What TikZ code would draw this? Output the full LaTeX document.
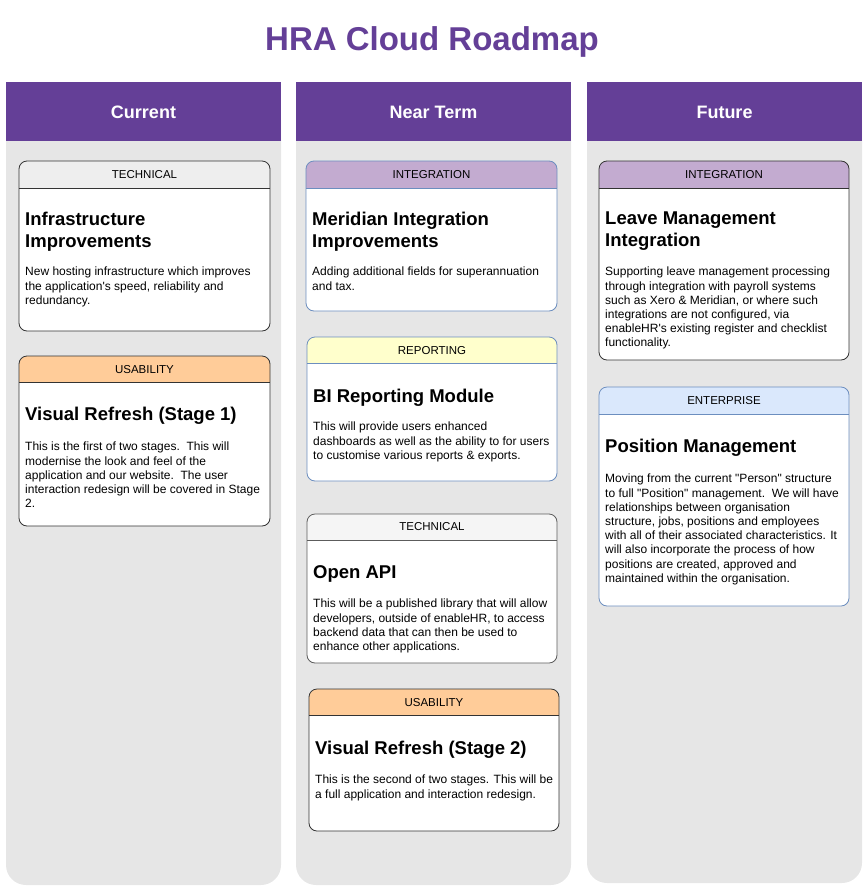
\documentclass[tikz,border=0pt]{standalone}
\usepackage{fontspec}
\setmainfont{Liberation Sans}[Ligatures=TeXOff]
\definecolor{hdr}{HTML}{643F97}
\definecolor{colbg}{HTML}{E6E6E6}
\definecolor{tech}{HTML}{EEEEEE}
\definecolor{usab}{HTML}{FFCC99}
\definecolor{integ}{HTML}{C3ABD0}
\definecolor{repo}{HTML}{FFFFCC}
\definecolor{ent}{HTML}{DAE8FC}
\definecolor{blueb}{HTML}{6C8EBF}
\definecolor{darkb}{HTML}{333333}
\tikzset{
 coltitle/.style={text=white,font=\bfseries\fontsize{18}{21}\selectfont},
 tag/.style={font=\fontsize{11.5}{13}\selectfont},
 cardtitle/.style={anchor=north west,align=left,font=\bfseries\fontsize{18.5}{22}\selectfont,inner sep=0pt},
 cardbody/.style={anchor=north west,align=left,font=\fontsize{12}{14.2}\selectfont,inner sep=0pt},
}
% x1 y1 x2 y2 hy fill border
\newcommand\mkcard[7]{%
 \fill[white,rounded corners=8] (#1,#2) rectangle (#3,#4);
 \path[fill=#6] (#1,#5) [rounded corners=8] -- (#1,#2) -- (#3,#2) [sharp corners] -- (#3,#5) -- cycle;
 \draw[#7,line width=0.8pt] (#1,#5) -- (#3,#5);
 \draw[#7,line width=0.8pt,rounded corners=8] (#1,#2) rectangle (#3,#4);
}
\begin{document}
\begin{tikzpicture}[x=1pt,y=-1pt]
\useasboundingbox (0,0) rectangle (864,889);
\node[text=hdr,font=\bfseries\fontsize{33}{38}\selectfont] (title) at (432,42) {HRA Cloud Roadmap};
% columns
\foreach \a/\b/\e/\n/\t in {6/281/885/c1/Current,296/571/885/c2/Near Term,587/862/883/c3/Future}{
 \fill[colbg,rounded corners=20] (\a,100) rectangle (\b,\e);
 \fill[hdr] (\a,82) rectangle (\b,141);
 \node[coltitle] (\n) at ({(\a+\b)/2},112) {\t};
}
% Current
\mkcard{19}{161}{270}{331}{188}{tech}{darkb}
\node[tag] (t1) at (144.5,175) {TECHNICAL};
\node[cardtitle] (h1) at (25,212) {Infrastructure\\Improvements};
\node[cardbody] (b1) at (25,267) {New hosting infrastructure which improves\\the application's speed, reliability and\\redundancy.};
\mkcard{19}{356}{270}{526}{382}{usab}{darkb}
\node[tag] (t2) at (144.5,370) {USABILITY};
\node[cardtitle] (h2) at (25,407) {Visual Refresh (Stage 1)};
\node[cardbody] (b2) at (25,442) {This is the first of two stages.\ \ This will\\modernise the look and feel of the\\application and our website.\ \ The user\\interaction redesign will be covered in Stage\\2.};
% Near term
\mkcard{306}{161}{557}{311}{188}{integ}{blueb}
\node[tag] (t3) at (431.5,175) {INTEGRATION};
\node[cardtitle] (h3) at (312,212) {Meridian Integration\\Improvements};
\node[cardbody] (b3) at (312,267) {Adding additional fields for superannuation\\and tax.};
\mkcard{307}{337}{557}{481}{363}{repo}{blueb}
\node[tag] (t4) at (432,351) {REPORTING};
\node[cardtitle] (h4) at (313,389) {BI Reporting Module};
\node[cardbody] (b4) at (313,422) {This will provide users enhanced\\dashboards as well as the ability to for users\\to customise various reports \& exports.};
\mkcard{307}{514}{557}{663}{540}{tech!60!white}{darkb!80}
\node[tag] (t5) at (432,527) {TECHNICAL};
\node[cardtitle] (h5) at (313,565) {Open API};
\node[cardbody] (b5) at (313,599) {This will be a published library that will allow\\developers, outside of enableHR, to access\\backend data that can then be used to\\enhance other applications.};
\mkcard{309}{689}{559}{831}{715}{usab}{darkb}
\node[tag] (t6) at (434,703) {USABILITY};
\node[cardtitle] (h6) at (315,741) {Visual Refresh (Stage 2)};
\node[cardbody] (b6) at (315,775) {This is the second of two stages. This will be\\a full application and interaction redesign.};
% Future
\mkcard{599}{161}{849}{360}{188}{integ}{darkb}
\node[tag] (t7) at (724,175) {INTEGRATION};
\node[cardtitle] (h7) at (605,212) {Leave Management\\Integration};
\node[cardbody] (b7) at (605,267) {Supporting leave management processing\\through integration with payroll systems\\such as Xero \& Meridian, or where such\\integrations are not configured, via\\enableHR's existing register and checklist\\functionality.};
\mkcard{599}{387}{849}{606}{414}{ent}{blueb}
\node[tag] (t8) at (724,401) {ENTERPRISE};
\node[cardtitle] (h8) at (605,439) {Position Management};
\node[cardbody] (b8) at (605,474) {Moving from the current "Person" structure\\to full "Position" management.\ \ We will have\\relationships between organisation\\structure, jobs, positions and employees\\with all of their associated characteristics. It\\will also incorporate the process of how\\positions are created, approved and\\maintained within the organisation.};
\end{tikzpicture}
\end{document}
